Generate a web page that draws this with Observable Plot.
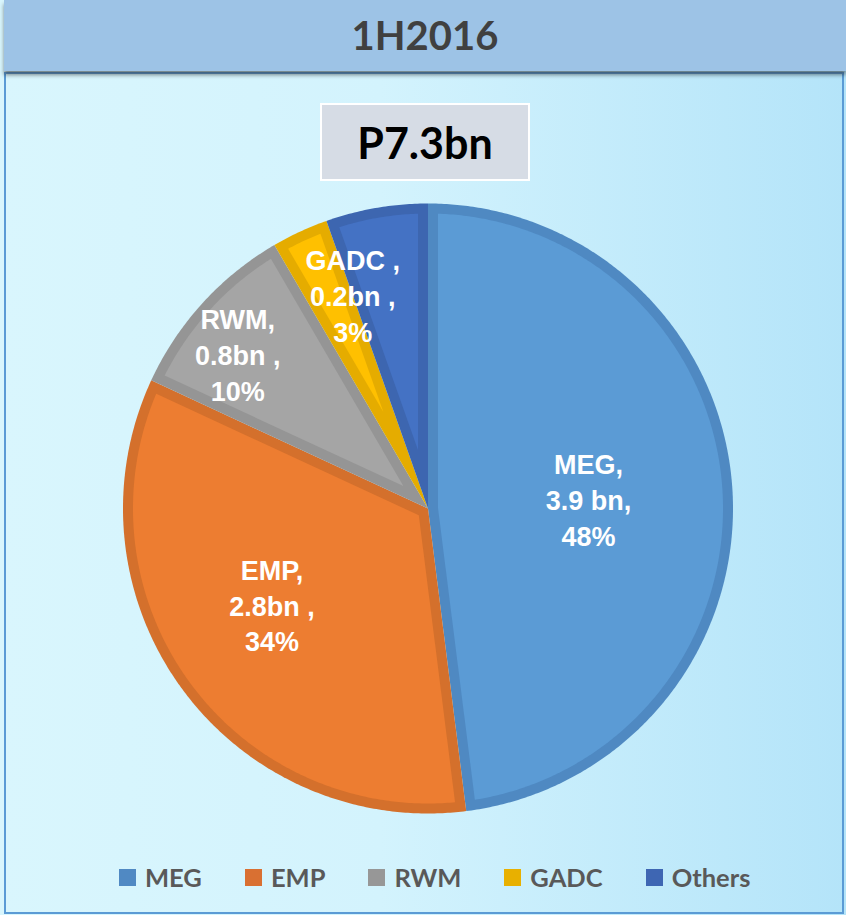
<!DOCTYPE html>
<html>
<head>
<meta charset="utf-8">
<script src="https://cdn.jsdelivr.net/npm/d3@7"></script>
<script src="https://cdn.jsdelivr.net/npm/@observablehq/plot@0.6"></script>
<style>
  html, body { margin: 0; padding: 0; }
  body { width: 846px; height: 915px; overflow: hidden; }
  #page {
    position: relative; width: 846px; height: 915px;
    background: linear-gradient(to right, #d9f6fd 0%, #d3f3fd 45%, #b4e4f9 100%);
  }
  #frame {
    position: absolute; left: 4px; top: 72px; width: 836px; height: 838px;
    border: 2px solid #5b9bd5; border-top: 2px solid #6fa8dc;
  }
  #header {
    position: absolute; left: 4px; top: 0; width: 842px; height: 71px;
    background: #9dc3e6; box-shadow: 0 4px 4px rgba(0,0,0,0.45);
    display: flex; align-items: center; justify-content: center;
    font-family: Lato, "Open Sans", sans-serif; font-weight: 700; font-size: 40px; color: #404040;
  }
  #header span { position: relative; left: 0px; top: -1px; }
  #total {
    position: absolute; left: 320px; top: 103px; width: 206px; height: 74px;
    background: #d6dce5; border: 2px solid #ffffff;
    display: flex; align-items: center; justify-content: center;
    font-family: Lato, "Open Sans", sans-serif; font-weight: 700; font-size: 43px; color: #000;
  }
  #chart { position: absolute; left: 0; top: 190px; }
  #legend {
    position: absolute; left: 119px; top: 862px; display: flex; align-items: center;
    font-family: Lato, "Open Sans", sans-serif; font-weight: 700; font-size: 25.5px; color: #595959;
  }
  .item { display: flex; align-items: center; margin-right: 43px; }
  .sw { width: 17px; height: 17px; margin-right: 9px; }
</style>
</head>
<body>
<div id="page">
  <div id="frame"></div>
  <div id="header"><span id="title"></span></div>
  <div id="total"></div>
  <div id="chart"></div>
  <div id="legend"></div>
</div>
<script>
// ---- data ----
const titleText = "1H2016";
const totalText = "P7.3bn";
const categories = ["MEG", "EMP", "RWM", "GADC", "Others"];
const valuesBn = [3.9, 2.8, 0.8, 0.2, null];
const sharesPct = [48.0, 33.9, 9.7, 3.0, 5.4];   // slice sizes
const dataLabels = ["MEG,\n3.9 bn,\n48%", "EMP,\n2.8bn ,\n34%", "RWM,\n0.8bn ,\n10%", "GADC ,\n0.2bn ,\n3%", null];
const fillColors = ["#5b9bd5", "#ed7d31", "#a5a5a5", "#ffc000", "#4472c4"];
const borderColors = ["#4f89c2", "#d4702c", "#959595", "#e5ac00", "#3d66b0"];
const legendColors = ["#5089c3", "#d97032", "#979797", "#e8b000", "#3e66b3"];

// ---- layout config ----
const cx = 427.5, cy = 318, R = 305;      // pie centre/radius inside the svg
const borderPx = 10;
const labelRadius = [0.527, 0.60, 0.805, 0.744, 0];
const labelNudgeDeg = [0, 4.7, -3.1, 5.5, 0];

document.getElementById("title").textContent = titleText;
document.getElementById("total").textContent = totalText;

// ---- geometry in unit-circle coordinates ----
const total = d3.sum(sharesPct);
let acc = 0;
const slices = categories.map((name, i) => {
  const a0 = acc / total * 2 * Math.PI;
  acc += sharesPct[i];
  const a1 = acc / total * 2 * Math.PI;
  return {name, i, a0, a1};
});
const pt = (r, a) => ({x: r * Math.sin(a), y: r * Math.cos(a)});
function arcPts(r, a0, a1) {
  const n = Math.max(2, Math.ceil((a1 - a0) / (Math.PI / 360)));
  return d3.range(n + 1).map(k => pt(r, a0 + (a1 - a0) * k / n));
}
const d = borderPx / R;
const outer = slices.map(s => [pt(0, 0), ...arcPts(1, s.a0, s.a1)]);
const inner = slices.map(s => {
  const half = (s.a1 - s.a0) / 2, mid = (s.a0 + s.a1) / 2;
  const Ri = 1 - d, delta = Math.asin(d / Ri);
  return [pt(d / Math.sin(half), mid), ...arcPts(Ri, s.a0 + delta, s.a1 - delta)];
});
const labels = slices.filter(s => dataLabels[s.i]).map(s => {
  const a = (s.a0 + s.a1) / 2 + labelNudgeDeg[s.i] * Math.PI / 180;
  return {...pt(labelRadius[s.i], a), text: dataLabels[s.i]};
});

const chart = Plot.plot({
  width: 846,
  height: 640,
  margin: 0,
  x: {domain: [-1, 1], range: [cx - R, cx + R], axis: null},
  y: {domain: [-1, 1], range: [cy + R, cy - R], axis: null},
  style: {background: "transparent", overflow: "visible"},
  marks: [
    ...outer.map((pts, i) => Plot.line(pts, {x: "x", y: "y", curve: "linear-closed", fill: borderColors[i], stroke: "none"})),
    ...inner.map((pts, i) => Plot.line(pts, {x: "x", y: "y", curve: "linear-closed", fill: fillColors[i], stroke: "none"})),
    Plot.text(labels, {
      x: "x", y: "y", text: "text", fill: "white", fontSize: 27, fontWeight: "bold",
      fontFamily: "'Liberation Sans', Arial, sans-serif", lineHeight: 1.33
    })
  ]
});
document.getElementById("chart").appendChild(chart);

// ---- legend ----
const legend = document.getElementById("legend");
categories.forEach((c, i) => {
  const it = document.createElement("div");
  it.className = "item";
  const sw = document.createElement("div");
  sw.className = "sw";
  sw.style.background = legendColors[i];
  const tx = document.createElement("span");
  tx.textContent = c;
  it.appendChild(sw); it.appendChild(tx);
  legend.appendChild(it);
});
</script>
</body>
</html>
